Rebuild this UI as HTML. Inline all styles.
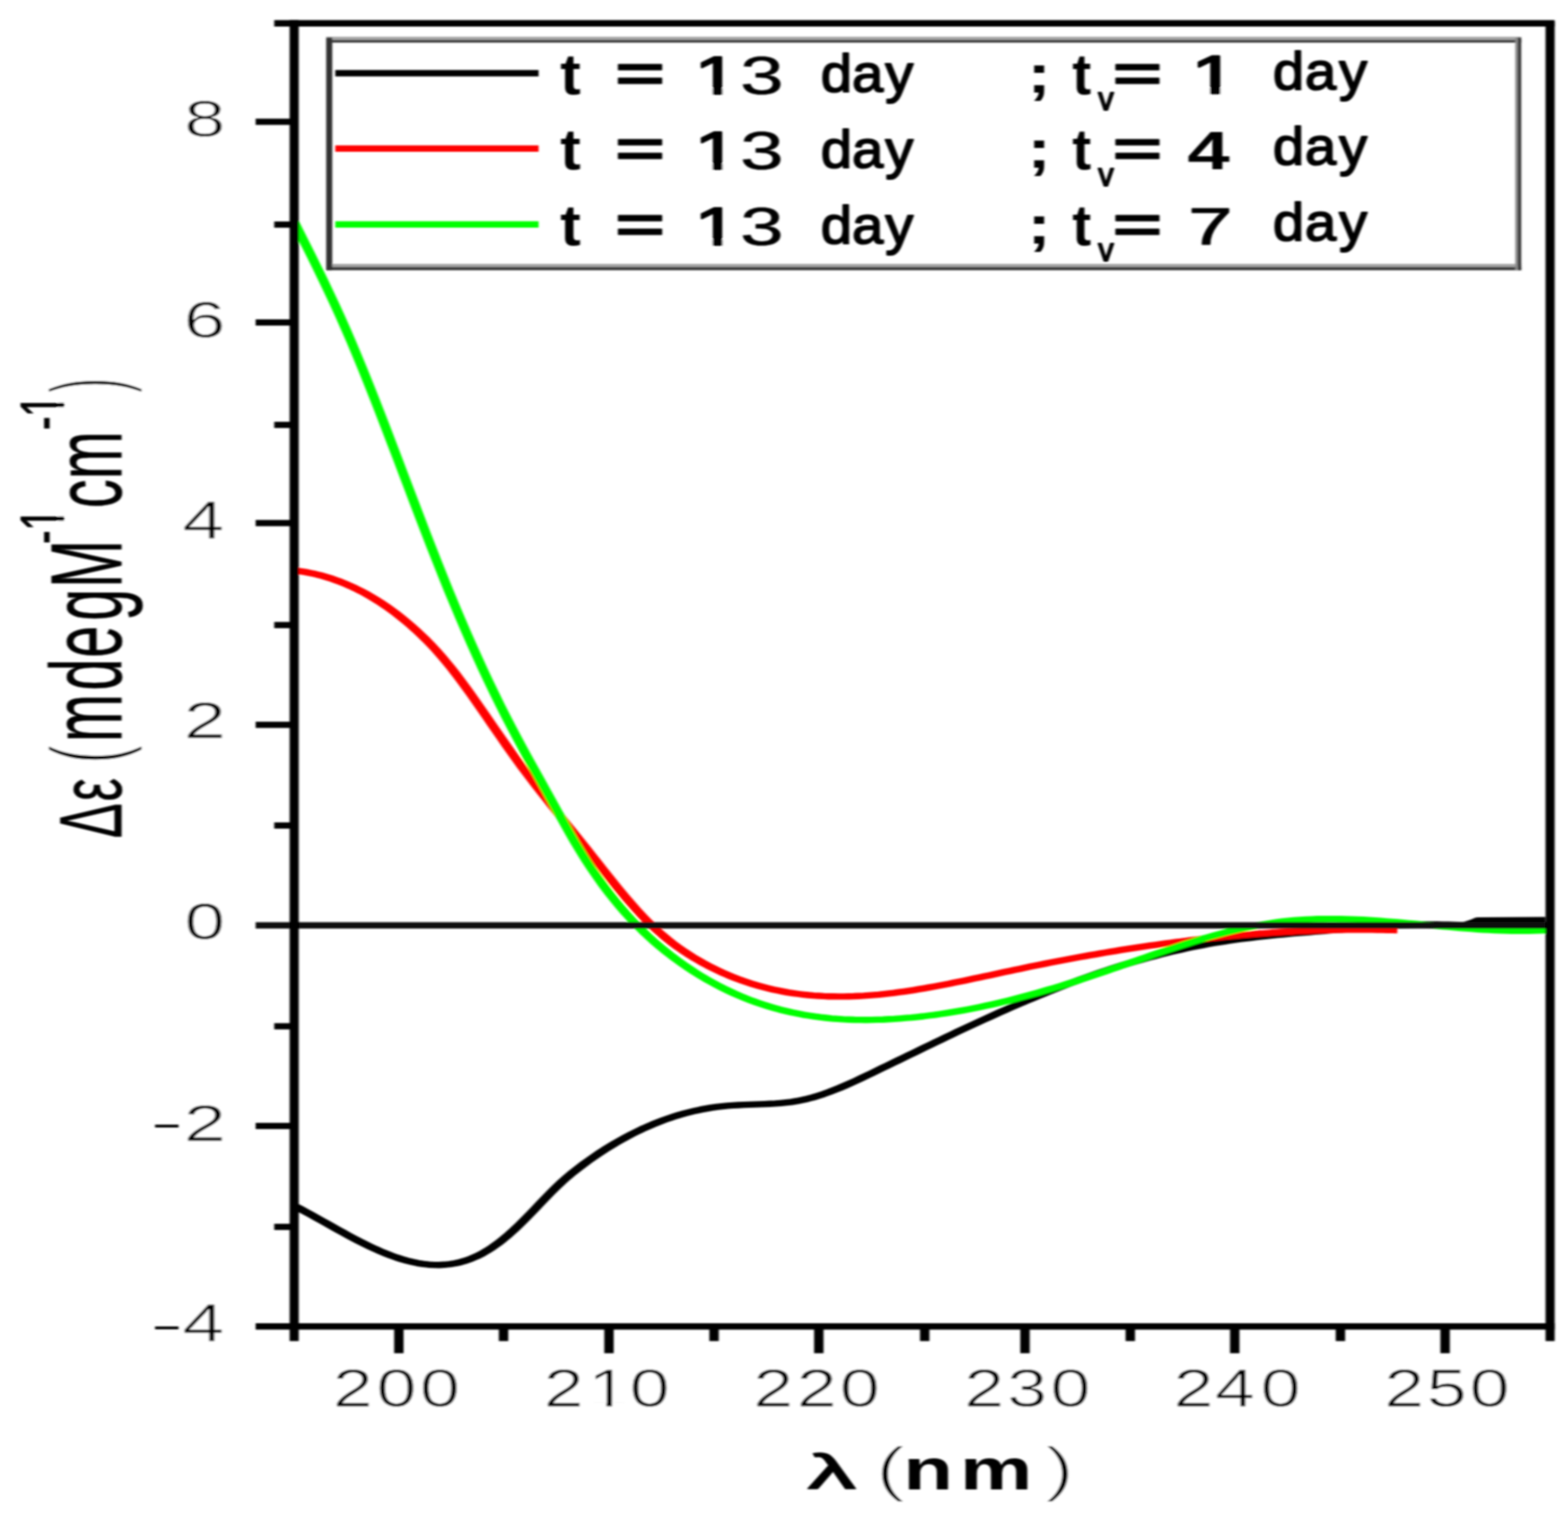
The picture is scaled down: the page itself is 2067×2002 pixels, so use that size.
<!DOCTYPE html>
<html lang="en">
<head>
<meta charset="utf-8">
<title>CD spectra</title>
<style>
html,body{margin:0;padding:0;background:#fff;}
body{width:2067px;height:2002px;overflow:hidden;}
svg{display:block;}
text{font-family:"Liberation Sans",sans-serif;font-size:100px;font-kerning:none;fill:#000;stroke-linejoin:round;white-space:pre;}
</style>
</head>
<body>
<svg width="2067" height="2002" viewBox="0 0 2067 2002">
<defs><filter id="soft" x="0" y="0" width="2067" height="2002" filterUnits="userSpaceOnUse"><feGaussianBlur stdDeviation="1.5 1.1"/></filter></defs>
<rect width="2067" height="2002" fill="#fff"/>
<g filter="url(#soft)">
<g fill="none" stroke-width="8.4" stroke-linejoin="round" transform="scale(1.5 1)">
<path d="M259.33 1589.7 L264.02 1593.4 L268.72 1597.2 L273.41 1601.0 L278.10 1604.9 L282.79 1608.9 L287.48 1612.8 L292.17 1616.8 L296.86 1620.7 L301.55 1624.6 L306.24 1628.4 L310.93 1632.2 L315.63 1635.9 L320.32 1639.4 L325.01 1642.8 L329.70 1646.1 L334.39 1649.2 L339.08 1652.1 L343.77 1654.9 L348.46 1657.4 L353.15 1659.6 L357.84 1661.6 L362.54 1663.3 L367.23 1664.8 L371.92 1665.9 L376.61 1666.7 L381.30 1667.1 L385.99 1667.2 L390.68 1666.8 L395.37 1666.1 L400.06 1665.0 L404.75 1663.4 L409.45 1661.4 L414.14 1658.8 L418.83 1655.8 L423.52 1652.3 L428.21 1648.2 L432.90 1643.7 L437.59 1638.7 L442.28 1633.2 L446.97 1627.3 L451.67 1621.0 L456.36 1614.3 L461.05 1607.4 L465.74 1600.2 L470.43 1592.9 L475.12 1585.5 L479.81 1578.2 L484.50 1571.0 L489.19 1564.1 L493.88 1557.5 L498.58 1551.3 L503.27 1545.4 L507.96 1539.9 L512.65 1534.6 L517.34 1529.5 L522.03 1524.6 L526.72 1519.8 L531.41 1515.2 L536.10 1510.9 L540.79 1506.6 L545.49 1502.6 L550.18 1498.7 L554.87 1495.0 L559.56 1491.5 L564.25 1488.1 L568.94 1485.0 L573.63 1481.9 L578.32 1479.1 L583.01 1476.4 L587.70 1473.9 L592.40 1471.6 L597.09 1469.4 L601.78 1467.4 L606.47 1465.6 L611.16 1463.9 L615.85 1462.4 L620.54 1461.1 L625.23 1459.9 L629.92 1458.9 L634.61 1458.1 L639.31 1457.4 L644.00 1456.9 L648.69 1456.5 L653.38 1456.1 L658.07 1455.9 L662.76 1455.6 L667.45 1455.4 L672.14 1455.1 L676.83 1454.8 L681.53 1454.4 L686.22 1453.8 L690.91 1453.1 L695.60 1452.3 L700.29 1451.2 L704.98 1449.8 L709.67 1448.2 L714.36 1446.4 L719.05 1444.2 L723.74 1441.9 L728.44 1439.4 L733.13 1436.7 L737.82 1433.9 L742.51 1430.9 L747.20 1427.8 L751.89 1424.6 L756.58 1421.3 L761.27 1417.9 L765.96 1414.6 L770.65 1411.2 L775.35 1407.7 L780.04 1404.3 L784.73 1400.9 L789.42 1397.5 L794.11 1394.1 L798.80 1390.7 L803.49 1387.3 L808.18 1383.8 L812.87 1380.4 L817.56 1377.1 L822.26 1373.7 L826.95 1370.3 L831.64 1366.9 L836.33 1363.6 L841.02 1360.2 L845.71 1356.9 L850.40 1353.6 L855.09 1350.4 L859.78 1347.1 L864.47 1343.9 L869.17 1340.7 L873.86 1337.5 L878.55 1334.3 L883.24 1331.2 L887.93 1328.1 L892.62 1325.0 L897.31 1322.0 L902.00 1319.0 L906.69 1316.1 L911.39 1313.1 L916.08 1310.3 L920.77 1307.4 L925.46 1304.6 L930.15 1301.9 L934.84 1299.1 L939.53 1296.4 L944.22 1293.8 L948.91 1291.2 L953.60 1288.7 L958.30 1286.2 L962.99 1283.7 L967.68 1281.3 L972.37 1278.9 L977.06 1276.6 L981.75 1274.4 L986.44 1272.1 L991.13 1270.0 L995.82 1267.9 L1000.51 1265.8 L1005.21 1263.8 L1009.90 1261.9 L1014.59 1260.0 L1019.28 1258.1 L1023.97 1256.4 L1028.66 1254.6 L1033.35 1253.0 L1038.04 1251.4 L1042.73 1249.8 L1047.42 1248.3 L1052.12 1246.9 L1056.81 1245.6 L1061.50 1244.3 L1066.19 1243.0 L1070.88 1241.9 L1075.57 1240.8 L1080.26 1239.7 L1084.95 1238.7 L1089.64 1237.7 L1094.33 1236.8 L1099.03 1236.0 L1103.72 1235.1 L1108.41 1234.4 L1113.10 1233.6 L1117.79 1232.9 L1122.48 1232.2 L1127.17 1231.5 L1131.86 1230.9 L1136.55 1230.2 L1141.25 1229.6 L1145.94 1229.0 L1150.63 1228.5 L1155.32 1227.9 L1160.01 1227.3 L1164.70 1226.8 L1169.39 1226.2 L1174.08 1225.6 L1178.77 1225.1 L1183.46 1224.5 L1188.16 1223.9 L1192.85 1223.4 L1197.54 1222.8 L1202.23 1222.3 L1206.92 1221.8 L1211.61 1221.3 L1216.30 1220.8 L1220.99 1220.4 L1225.68 1220.0 L1230.37 1219.6 L1235.07 1219.3 L1239.76 1219.0 L1244.45 1218.8 L1249.14 1218.6 L1253.83 1218.5 L1258.52 1218.5 L1263.21 1218.5 L1267.90 1218.6 L1272.59 1218.7 L1277.28 1219.0 L1281.98 1219.3 L1286.67 1219.7" stroke="#000"/>
<path d="M1286.67 1219.6 L1294.00 1216.0 L1298.67 1213.2 L1358.00 1212.8" stroke="#000"/>
<path d="M259.33 752.0 L263.76 752.9 L268.18 753.9 L272.60 755.2 L277.03 756.6 L281.45 758.2 L285.87 760.1 L290.30 762.1 L294.72 764.4 L299.14 766.8 L303.56 769.5 L307.99 772.4 L312.41 775.5 L316.83 778.8 L321.26 782.3 L325.68 786.1 L330.10 790.1 L334.53 794.3 L338.95 798.7 L343.37 803.4 L347.80 808.3 L352.22 813.5 L356.64 818.9 L361.07 824.5 L365.49 830.4 L369.91 836.6 L374.33 843.0 L378.76 849.8 L383.18 856.9 L387.60 864.4 L392.03 872.2 L396.45 880.3 L400.87 888.8 L405.30 897.6 L409.72 906.6 L414.14 915.8 L418.57 925.2 L422.99 934.7 L427.41 944.2 L431.84 953.9 L436.26 963.5 L440.68 973.1 L445.11 982.6 L449.53 992.0 L453.95 1001.2 L458.37 1010.3 L462.80 1019.2 L467.22 1027.9 L471.64 1036.6 L476.07 1045.0 L480.49 1053.4 L484.91 1061.8 L489.34 1070.0 L493.76 1078.2 L498.18 1086.4 L502.61 1094.6 L507.03 1102.8 L511.45 1111.0 L515.88 1119.3 L520.30 1127.6 L524.72 1136.0 L529.14 1144.4 L533.57 1152.7 L537.99 1161.0 L542.41 1169.2 L546.84 1177.2 L551.26 1185.1 L555.68 1192.7 L560.11 1200.1 L564.53 1207.3 L568.95 1214.1 L573.38 1220.6 L577.80 1226.7 L582.22 1232.5 L586.65 1238.0 L591.07 1243.2 L595.49 1248.1 L599.91 1252.7 L604.34 1257.1 L608.76 1261.3 L613.18 1265.2 L617.61 1269.0 L622.03 1272.6 L626.45 1275.9 L630.88 1279.1 L635.30 1282.2 L639.72 1285.1 L644.15 1287.8 L648.57 1290.4 L652.99 1292.8 L657.42 1295.0 L661.84 1297.2 L666.26 1299.1 L670.68 1300.9 L675.11 1302.6 L679.53 1304.2 L683.95 1305.6 L688.38 1306.9 L692.80 1308.1 L697.22 1309.1 L701.65 1310.0 L706.07 1310.8 L710.49 1311.5 L714.92 1312.1 L719.34 1312.5 L723.76 1312.9 L728.19 1313.2 L732.61 1313.3 L737.03 1313.4 L741.46 1313.4 L745.88 1313.2 L750.30 1313.0 L754.72 1312.7 L759.15 1312.4 L763.57 1311.9 L767.99 1311.4 L772.42 1310.8 L776.84 1310.1 L781.26 1309.4 L785.69 1308.6 L790.11 1307.7 L794.53 1306.8 L798.96 1305.8 L803.38 1304.8 L807.80 1303.7 L812.23 1302.6 L816.65 1301.4 L821.07 1300.2 L825.49 1299.0 L829.92 1297.7 L834.34 1296.5 L838.76 1295.1 L843.19 1293.8 L847.61 1292.4 L852.03 1291.0 L856.46 1289.6 L860.88 1288.2 L865.30 1286.8 L869.73 1285.4 L874.15 1283.9 L878.57 1282.5 L883.00 1281.1 L887.42 1279.7 L891.84 1278.3 L896.26 1276.9 L900.69 1275.5 L905.11 1274.1 L909.53 1272.8 L913.96 1271.4 L918.38 1270.1 L922.80 1268.8 L927.23 1267.5 L931.65 1266.2 L936.07 1265.0 L940.50 1263.7 L944.92 1262.5 L949.34 1261.3 L953.77 1260.1 L958.19 1258.9 L962.61 1257.8 L967.04 1256.6 L971.46 1255.5 L975.88 1254.4 L980.30 1253.3 L984.73 1252.2 L989.15 1251.2 L993.57 1250.2 L998.00 1249.1 L1002.42 1248.1 L1006.84 1247.2 L1011.27 1246.2 L1015.69 1245.3 L1020.11 1244.3 L1024.54 1243.4 L1028.96 1242.6 L1033.38 1241.7 L1037.81 1240.9 L1042.23 1240.0 L1046.65 1239.2 L1051.07 1238.5 L1055.50 1237.7 L1059.92 1237.0 L1064.34 1236.2 L1068.77 1235.5 L1073.19 1234.9 L1077.61 1234.2 L1082.04 1233.6 L1086.46 1233.0 L1090.88 1232.4 L1095.31 1231.8 L1099.73 1231.3 L1104.15 1230.7 L1108.58 1230.3 L1113.00 1229.8 L1117.42 1229.3 L1121.84 1228.9 L1126.27 1228.5 L1130.69 1228.1 L1135.11 1227.8 L1139.54 1227.4 L1143.96 1227.1 L1148.38 1226.8 L1152.81 1226.6 L1157.23 1226.3 L1161.65 1226.1 L1166.08 1225.9 L1170.50 1225.8 L1174.92 1225.6 L1179.35 1225.5 L1183.77 1225.4 L1188.19 1225.4 L1192.61 1225.3 L1197.04 1225.3 L1201.46 1225.4 L1205.88 1225.4 L1210.31 1225.5 L1214.73 1225.6 L1219.15 1225.7 L1223.58 1225.9 L1228.00 1226.0" stroke="#f00"/>
<path d="M258.67 292.7 L263.69 307.7 L268.71 322.6 L273.74 337.7 L278.76 353.0 L283.78 368.4 L288.80 384.2 L293.83 400.3 L298.85 416.8 L303.87 433.7 L308.89 451.2 L313.92 469.1 L318.94 487.4 L323.96 506.1 L328.99 525.1 L334.01 544.4 L339.03 563.9 L344.05 583.6 L349.08 603.3 L354.10 623.2 L359.12 643.0 L364.15 662.9 L369.17 682.6 L374.19 702.2 L379.21 721.6 L384.24 740.8 L389.26 759.7 L394.28 778.3 L399.31 796.5 L404.33 814.4 L409.35 831.9 L414.37 849.0 L419.40 865.8 L424.42 882.2 L429.44 898.3 L434.47 913.9 L439.49 929.2 L444.51 944.2 L449.53 958.7 L454.56 972.9 L459.58 986.9 L464.60 1000.7 L469.63 1014.3 L474.65 1027.8 L479.67 1041.4 L484.69 1055.0 L489.72 1068.7 L494.74 1082.3 L499.76 1095.8 L504.79 1108.9 L509.81 1121.5 L514.83 1133.6 L519.85 1145.1 L524.88 1156.1 L529.90 1166.6 L534.92 1176.6 L539.95 1186.1 L544.97 1195.2 L549.99 1203.9 L555.01 1212.1 L560.04 1220.0 L565.06 1227.5 L570.08 1234.6 L575.11 1241.4 L580.13 1247.9 L585.15 1254.0 L590.17 1259.9 L595.20 1265.5 L600.22 1270.9 L605.24 1276.0 L610.26 1281.0 L615.29 1285.7 L620.31 1290.2 L625.33 1294.4 L630.36 1298.5 L635.38 1302.4 L640.40 1306.0 L645.42 1309.5 L650.45 1312.8 L655.47 1315.9 L660.49 1318.8 L665.52 1321.5 L670.54 1324.0 L675.56 1326.4 L680.58 1328.6 L685.61 1330.7 L690.63 1332.5 L695.65 1334.3 L700.68 1335.8 L705.70 1337.3 L710.72 1338.5 L715.74 1339.7 L720.77 1340.7 L725.79 1341.5 L730.81 1342.3 L735.84 1342.9 L740.86 1343.4 L745.88 1343.7 L750.90 1344.0 L755.93 1344.1 L760.95 1344.2 L765.97 1344.1 L771.00 1343.9 L776.02 1343.7 L781.04 1343.3 L786.06 1342.9 L791.09 1342.3 L796.11 1341.7 L801.13 1341.1 L806.16 1340.3 L811.18 1339.5 L816.20 1338.5 L821.22 1337.6 L826.25 1336.5 L831.27 1335.4 L836.29 1334.2 L841.32 1332.9 L846.34 1331.6 L851.36 1330.2 L856.38 1328.7 L861.41 1327.2 L866.43 1325.6 L871.45 1323.9 L876.47 1322.2 L881.50 1320.4 L886.52 1318.6 L891.54 1316.7 L896.57 1314.7 L901.59 1312.7 L906.61 1310.7 L911.63 1308.6 L916.66 1306.4 L921.68 1304.2 L926.70 1302.0 L931.73 1299.7 L936.75 1297.4 L941.77 1295.0 L946.79 1292.6 L951.82 1290.1 L956.84 1287.6 L961.86 1285.1 L966.89 1282.5 L971.91 1279.9 L976.93 1277.3 L981.95 1274.7 L986.98 1272.1 L992.00 1269.5 L997.02 1266.9 L1002.05 1264.3 L1007.07 1261.7 L1012.09 1259.1 L1017.11 1256.5 L1022.14 1253.9 L1027.16 1251.4 L1032.18 1248.9 L1037.21 1246.5 L1042.23 1244.1 L1047.25 1241.7 L1052.27 1239.4 L1057.30 1237.2 L1062.32 1235.0 L1067.34 1232.9 L1072.37 1230.9 L1077.39 1228.9 L1082.41 1227.0 L1087.43 1225.2 L1092.46 1223.5 L1097.48 1221.9 L1102.50 1220.4 L1107.53 1219.0 L1112.55 1217.7 L1117.57 1216.5 L1122.59 1215.4 L1127.62 1214.5 L1132.64 1213.7 L1137.66 1213.0 L1142.68 1212.4 L1147.71 1212.0 L1152.73 1211.6 L1157.75 1211.3 L1162.78 1211.2 L1167.80 1211.1 L1172.82 1211.1 L1177.84 1211.2 L1182.87 1211.4 L1187.89 1211.6 L1192.91 1211.9 L1197.94 1212.3 L1202.96 1212.7 L1207.98 1213.2 L1213.00 1213.7 L1218.03 1214.3 L1223.05 1214.9 L1228.07 1215.5 L1233.10 1216.2 L1238.12 1216.8 L1243.14 1217.5 L1248.16 1218.2 L1253.19 1218.9 L1258.21 1219.6 L1263.23 1220.3 L1268.26 1221.0 L1273.28 1221.7 L1278.30 1222.4 L1283.32 1223.0 L1288.35 1223.6 L1293.37 1224.2 L1298.39 1224.7 L1303.42 1225.2 L1308.44 1225.6 L1313.46 1226.0 L1318.48 1226.3 L1323.51 1226.5 L1328.53 1226.7 L1333.55 1226.8 L1338.58 1226.8 L1343.60 1226.8 L1348.62 1226.6 L1353.64 1226.4 L1358.67 1226.0" stroke="#0f0"/>
</g>
<rect x="337.0" y="1215.4" width="1701.0" height="8.4" fill="#111"/>
<rect x="361.5" y="26.5" width="1687.9" height="8.5" fill="#000"/>
<rect x="337.0" y="1744.0" width="1712.4" height="8.4" fill="#000"/>
<rect x="381.8" y="26.5" width="12.0" height="1741.0" fill="#000"/>
<rect x="2037.4" y="28.5" width="12.0" height="1739.0" fill="#000"/>
<rect x="337.0" y="156.4" width="50.8" height="8.2" fill="#000"/>
<rect x="337.0" y="420.9" width="50.8" height="8.2" fill="#000"/>
<rect x="337.0" y="685.3" width="50.8" height="8.2" fill="#000"/>
<rect x="337.0" y="951.2" width="50.8" height="8.2" fill="#000"/>
<rect x="337.0" y="1479.9" width="50.8" height="8.2" fill="#000"/>
<rect x="361.5" y="291.9" width="26.3" height="8.2" fill="#000"/>
<rect x="361.5" y="555.9" width="26.3" height="8.2" fill="#000"/>
<rect x="361.5" y="819.7" width="26.3" height="8.2" fill="#000"/>
<rect x="361.5" y="1083.9" width="26.3" height="8.2" fill="#000"/>
<rect x="361.5" y="1348.5" width="26.3" height="8.2" fill="#000"/>
<rect x="361.5" y="1612.9" width="26.3" height="8.2" fill="#000"/>
<rect x="519.6" y="1744.0" width="12.4" height="39.5" fill="#000"/>
<rect x="796.6" y="1744.0" width="12.4" height="39.5" fill="#000"/>
<rect x="1073.2" y="1744.0" width="12.4" height="39.5" fill="#000"/>
<rect x="1345.0" y="1744.0" width="12.4" height="39.5" fill="#000"/>
<rect x="1621.5" y="1744.0" width="12.4" height="39.5" fill="#000"/>
<rect x="1898.8" y="1744.0" width="12.4" height="39.5" fill="#000"/>
<rect x="657.6" y="1744.0" width="12.4" height="23.5" fill="#000"/>
<rect x="935.1" y="1744.0" width="12.4" height="23.5" fill="#000"/>
<rect x="1212.8" y="1744.0" width="12.4" height="23.5" fill="#000"/>
<rect x="1483.8" y="1744.0" width="12.4" height="23.5" fill="#000"/>
<rect x="1760.8" y="1744.0" width="12.4" height="23.5" fill="#000"/>
<rect x="430.0" y="48.5" width="1575.3" height="3.9" fill="#a4a4a4"/>
<rect x="430.0" y="52.4" width="1575.3" height="3.8" fill="#404040"/>
<rect x="430.0" y="347.8" width="1575.3" height="4.0" fill="#a4a4a4"/>
<rect x="430.0" y="351.8" width="1575.3" height="4.4" fill="#404040"/>
<rect x="430.0" y="49.5" width="8.0" height="306.7" fill="#333"/>
<rect x="1997.5" y="49.5" width="3.5" height="306.7" fill="#888"/>
<rect x="2001.0" y="49.5" width="4.3" height="306.7" fill="#333"/>
<rect x="442.0" y="92.3" width="268.0" height="8.4" fill="#000"/>
<rect x="442.0" y="191.6" width="268.0" height="8.4" fill="#f00"/>
<rect x="442.0" y="291.6" width="268.0" height="8.4" fill="#0f0"/>
<g transform="translate(0 180.31) scale(0.9797 0.6772)"><text x="247.79" style="stroke:#fff;stroke-width:1.4;">8</text></g>
<g transform="translate(0 444.81) scale(0.9968 0.6772)"><text x="242.71" style="stroke:#fff;stroke-width:1.4;">6</text></g>
<g transform="translate(0 709.69) scale(1.0002 0.6973)"><text x="240.26" style="stroke:#fff;stroke-width:1.4;">4</text></g>
<g transform="translate(0 973.48) scale(1.0100 0.6869)"><text x="239.51" style="stroke:#fff;stroke-width:1.4;">2</text></g>
<g transform="translate(0 1237.61) scale(0.9612 0.6772)"><text x="253.11" style="stroke:#fff;stroke-width:1.4;">0</text></g>
<g transform="translate(0 1497.42) scale(1.2698 0.4864)"><text x="156.61">-</text></g>
<g transform="translate(0 1503.58) scale(1.0100 0.6869)"><text x="239.51" style="stroke:#fff;stroke-width:1.4;">2</text></g>
<g transform="translate(0 1762.92) scale(1.2698 0.4864)"><text x="156.61">-</text></g>
<g transform="translate(0 1768.29) scale(1.0002 0.6973)"><text x="240.26" style="stroke:#fff;stroke-width:1.4;">4</text></g>
<g transform="translate(0 1854.31) scale(0.9500 0.6960)"><text x="461.98 522.40 582.72" style="stroke:#fff;stroke-width:1.4;">200</text></g>
<g transform="translate(0 1854.31) scale(0.9500 0.6960)"><text x="754.40 815.94 873.67" style="stroke:#fff;stroke-width:1.4;">210</text><rect x="822.24" y="-8.30" width="19.25" height="10.10" fill="#fff"/><rect x="849.49" y="-8.30" width="18.70" height="10.10" fill="#fff"/></g>
<g transform="translate(0 1854.31) scale(0.9500 0.6960)"><text x="1045.19 1105.61 1165.25" style="stroke:#fff;stroke-width:1.4;">220</text></g>
<g transform="translate(0 1854.31) scale(0.9500 0.6960)"><text x="1337.93 1397.49 1457.72" style="stroke:#fff;stroke-width:1.4;">230</text></g>
<g transform="translate(0 1854.31) scale(0.9500 0.6960)"><text x="1628.40 1685.88 1749.19" style="stroke:#fff;stroke-width:1.4;">240</text></g>
<g transform="translate(0 1854.31) scale(0.9500 0.6960)"><text x="1920.77 1979.71 2039.25" style="stroke:#fff;stroke-width:1.4;">250</text></g>
<g transform="translate(0 123.64) scale(0.8134 0.7533)"><text x="907.84" style="font-weight:bold;">t</text></g>
<g transform="translate(0 118.66) scale(1.1199 0.6408)"><text x="724.22" style="font-weight:bold;stroke:#000;stroke-width:2;">=</text></g>
<g transform="translate(0 123.58) scale(1.0276 0.7000)"><text><tspan x="891.00" style="stroke:#000;stroke-width:3.2;">1</tspan><tspan x="949.46" style="stroke:#000;stroke-width:1;">3</tspan></text><rect x="895.00" y="-10.60" width="19.25" height="14.70" fill="#fff"/><rect x="926.85" y="-10.60" width="18.70" height="14.70" fill="#fff"/></g>
<g transform="translate(0 121.36) scale(0.7400 0.7012)"><text x="1462.03 1517.91 1577.21" style="stroke:#000;stroke-width:3;">day</text></g>
<g transform="translate(0 121.67) scale(0.9328 0.7125)"><text x="1451.85" style="font-weight:bold;">;</text></g>
<g transform="translate(0 123.64) scale(0.7486 0.7533)"><text x="1888.15" style="font-weight:bold;">t</text></g>
<g transform="translate(0 145.14) scale(0.4069 0.4236)"><text x="3558.29" style="stroke:#000;stroke-width:5;">v</text></g>
<g transform="translate(0 118.66) scale(1.1180 0.6408)"><text x="1311.87" style="font-weight:bold;stroke:#000;stroke-width:2;">=</text></g>
<g transform="translate(0 123.45) scale(1.0643 0.6961)"><text x="1475.54" style="stroke:#000;stroke-width:3.6;">1</text><rect x="1479.34" y="-10.80" width="19.25" height="15.10" fill="#fff"/><rect x="1511.59" y="-10.80" width="18.70" height="15.10" fill="#fff"/></g>
<g transform="translate(0 117.77) scale(0.7400 0.6986)"><text x="2267.50 2324.80 2385.45" style="stroke:#000;stroke-width:3;">day</text></g>
<g transform="translate(0 223.24) scale(0.8134 0.7533)"><text x="907.84" style="font-weight:bold;">t</text></g>
<g transform="translate(0 218.26) scale(1.1199 0.6408)"><text x="724.22" style="font-weight:bold;stroke:#000;stroke-width:2;">=</text></g>
<g transform="translate(0 223.18) scale(1.0276 0.7000)"><text><tspan x="891.00" style="stroke:#000;stroke-width:3.2;">1</tspan><tspan x="949.46" style="stroke:#000;stroke-width:1;">3</tspan></text><rect x="895.00" y="-10.60" width="19.25" height="14.70" fill="#fff"/><rect x="926.85" y="-10.60" width="18.70" height="14.70" fill="#fff"/></g>
<g transform="translate(0 220.96) scale(0.7400 0.7012)"><text x="1462.03 1517.91 1577.21" style="stroke:#000;stroke-width:3;">day</text></g>
<g transform="translate(0 221.27) scale(0.9328 0.7125)"><text x="1451.85" style="font-weight:bold;">;</text></g>
<g transform="translate(0 223.24) scale(0.7486 0.7533)"><text x="1888.15" style="font-weight:bold;">t</text></g>
<g transform="translate(0 244.74) scale(0.4069 0.4236)"><text x="3558.29" style="stroke:#000;stroke-width:5;">v</text></g>
<g transform="translate(0 218.26) scale(1.1180 0.6408)"><text x="1311.87" style="font-weight:bold;stroke:#000;stroke-width:2;">=</text></g>
<g transform="translate(0 222.90) scale(1.0044 0.7122)"><text x="1558.33" style="font-weight:bold;">4</text></g>
<g transform="translate(0 217.37) scale(0.7400 0.6986)"><text x="2267.50 2324.80 2385.45" style="stroke:#000;stroke-width:3;">day</text></g>
<g transform="translate(0 322.84) scale(0.8134 0.7533)"><text x="907.84" style="font-weight:bold;">t</text></g>
<g transform="translate(0 317.86) scale(1.1199 0.6408)"><text x="724.22" style="font-weight:bold;stroke:#000;stroke-width:2;">=</text></g>
<g transform="translate(0 322.78) scale(1.0276 0.7000)"><text><tspan x="891.00" style="stroke:#000;stroke-width:3.2;">1</tspan><tspan x="949.46" style="stroke:#000;stroke-width:1;">3</tspan></text><rect x="895.00" y="-10.60" width="19.25" height="14.70" fill="#fff"/><rect x="926.85" y="-10.60" width="18.70" height="14.70" fill="#fff"/></g>
<g transform="translate(0 320.56) scale(0.7400 0.7012)"><text x="1462.03 1517.91 1577.21" style="stroke:#000;stroke-width:3;">day</text></g>
<g transform="translate(0 320.87) scale(0.9328 0.7125)"><text x="1451.85" style="font-weight:bold;">;</text></g>
<g transform="translate(0 322.84) scale(0.7486 0.7533)"><text x="1888.15" style="font-weight:bold;">t</text></g>
<g transform="translate(0 344.34) scale(0.4069 0.4236)"><text x="3558.29" style="stroke:#000;stroke-width:5;">v</text></g>
<g transform="translate(0 317.86) scale(1.1180 0.6408)"><text x="1311.87" style="font-weight:bold;stroke:#000;stroke-width:2;">=</text></g>
<g transform="translate(0 321.81) scale(1.0451 0.6921)"><text x="1498.96" style="stroke:#000;stroke-width:2;">7</text></g>
<g transform="translate(0 316.97) scale(0.7400 0.6986)"><text x="2267.50 2324.80 2385.45" style="stroke:#000;stroke-width:3;">day</text></g>
<g transform="translate(0 1962.48) scale(1.2682 0.6550)"><text x="839.54" style="stroke:#000;stroke-width:2.5;">λ</text></g>
<g transform="translate(0 1962.59) scale(1.2160 0.7974)"><text x="948.74" style="stroke:#fff;stroke-width:2.5;">(</text></g>
<g transform="translate(0 1962.70) scale(1.0727 0.7576)"><text x="1110.17 1179.74" style="font-weight:bold;">nm</text></g>
<g transform="translate(0 1962.59) scale(1.1993 0.7974)"><text x="1148.07" style="stroke:#fff;stroke-width:2.5;">)</text></g>
<g transform="translate(160.07 0) rotate(-90) scale(0.6918 1.1662)"><text x="-1596.93 -1526.69" style="stroke:#000;stroke-width:0.4;">Δε</text></g>
<g transform="translate(160.03 0) rotate(-90) scale(0.7600 1.3411)"><text><tspan x="-1324.52" style="stroke:#fff;stroke-width:2.2;">(</tspan><tspan x="-1286.87" style="stroke:#000;stroke-width:0.4;">m</tspan><tspan x="-1197.74" style="stroke:#000;stroke-width:0.4;">d</tspan><tspan x="-1140.87" style="stroke:#000;stroke-width:0.4;">e</tspan><tspan x="-1076.68" style="stroke:#000;stroke-width:0.4;">g</tspan><tspan x="-1019.28" style="stroke:#000;stroke-width:0.4;">M</tspan></text></g>
<g transform="translate(84.09 0) rotate(-90) scale(0.5500 0.8152)"><text x="-1303.92 -1272.35" style="stroke:#000;stroke-width:1;">-1</text><rect x="-1267.25" y="-9.50" width="19.25" height="12.50" fill="#fff"/><rect x="-1237.60" y="-9.50" width="18.70" height="12.50" fill="#fff"/></g>
<g transform="translate(160.05 0) rotate(-90) scale(0.7600 1.2655)"><text x="-881.13 -831.08" style="stroke:#000;stroke-width:0.4;">cm</text></g>
<g transform="translate(84.09 0) rotate(-90) scale(0.5500 0.8152)"><text x="-1030.83 -999.89" style="stroke:#000;stroke-width:1;">-1</text><rect x="-994.79" y="-9.50" width="19.25" height="12.50" fill="#fff"/><rect x="-965.14" y="-9.50" width="18.70" height="12.50" fill="#fff"/></g>
<g transform="translate(160.03 0) rotate(-90) scale(0.62 1.3411)"><text x="-836.02" style="stroke:#fff;stroke-width:2.2;">)</text></g>
</g>
</svg>
</body>
</html>
